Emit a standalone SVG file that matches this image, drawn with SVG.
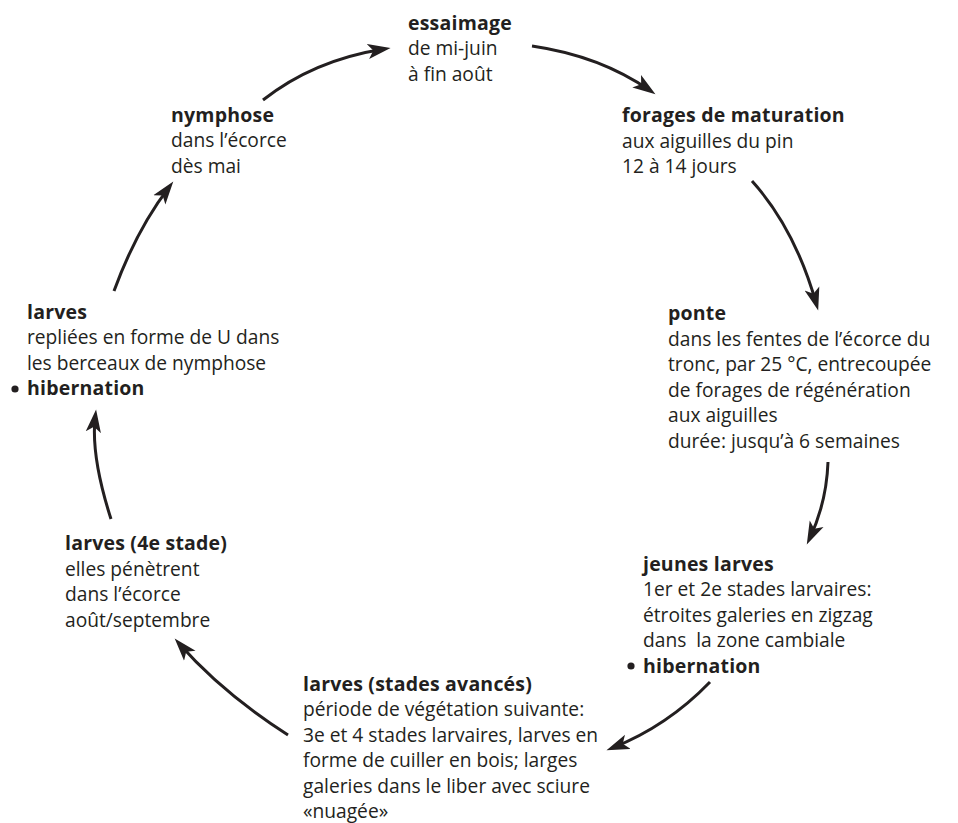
<svg xmlns="http://www.w3.org/2000/svg" width="958" height="823" viewBox="0 0 958 823">
<style>
text{font-family:"Open Sans","Noto Sans","Liberation Sans",sans-serif;font-size:19.2px;fill:#231f20}
.b{font-weight:bold;font-size:19.5px;letter-spacing:0.2px}
.c{fill:none;stroke:#231f20;stroke-width:3}
.dot{fill:#231f20}
</style>
<defs>
<marker id="ah" markerUnits="userSpaceOnUse" markerWidth="24" markerHeight="16" viewBox="0 0 22 14" refX="15" refY="7" orient="auto">
<path d="M0,0 L21,7 L0,14 L5,7 z" fill="#231f20"/>
</marker>
</defs>
<rect width="958" height="823" fill="#fff"/>
<g id="connectors">
<path class="c" marker-end="url(#ah)" d="M263,100 Q313.5,60 384.1,48.9"/>
<path class="c" marker-end="url(#ah)" d="M532,46 Q600.5,56 650.1,90.6"/>
<path class="c" marker-end="url(#ah)" d="M752,181 Q795,228.5 816.4,304.2"/>
<path class="c" marker-end="url(#ah)" d="M828,462 Q826.5,503 809.6,538.6"/>
<path class="c" marker-end="url(#ah)" d="M710,682 Q667.5,726 612.6,747.8"/>
<path class="c" marker-end="url(#ah)" d="M288,735 Q222.5,693 179,643.5"/>
<path class="c" marker-end="url(#ah)" d="M111,519 Q90.5,455.5 95.3,416"/>
<path class="c" marker-end="url(#ah)" d="M114,291 Q136.5,229.5 169.3,186.8"/>
</g>
<g id="essaimage">
<text class="b" x="408" y="29.5">essaimage</text>
<text x="408" y="55">de mi-juin</text>
<text x="408" y="80.5">à fin août</text>
</g>
<g id="forages">
<text class="b" x="622" y="122">forages de maturation</text>
<text x="622" y="147.5">aux aiguilles du pin</text>
<text x="622" y="173">12 à 14 jours</text>
</g>
<g id="ponte">
<text class="b" x="668" y="320">ponte</text>
<text x="668" y="345.5">dans les fentes de l’écorce du</text>
<text x="668" y="371">tronc, par 25 °C, entrecoupée</text>
<text x="668" y="396.5">de forages de régénération</text>
<text x="668" y="422">aux aiguilles</text>
<text x="668" y="447.5">durée: jusqu’à 6 semaines</text>
</g>
<g id="jeunes-larves">
<text class="b" x="643" y="570.5">jeunes larves</text>
<text x="643" y="596">1er et 2e stades larvaires:</text>
<text x="643" y="621.5">étroites galeries en zigzag</text>
<text x="643" y="647" style="white-space:pre" xml:space="preserve">dans  la zone cambiale</text>
<circle class="dot" cx="631" cy="666" r="3.6"/>
<text class="b" x="643" y="672.5">hibernation</text>
</g>
<g id="larves-avances">
<text class="b" x="303" y="690.5">larves (stades avancés)</text>
<text x="303" y="716">période de végétation suivante:</text>
<text x="303" y="741.5">3e et 4 stades larvaires, larves en</text>
<text x="303" y="767">forme de cuiller en bois; larges</text>
<text x="303" y="792.5">galeries dans le liber avec sciure</text>
<text x="303" y="818">«nuagée»</text>
</g>
<g id="larves-4e">
<text class="b" x="65" y="550">larves (4e stade)</text>
<text x="65" y="575.5">elles pénètrent</text>
<text x="65" y="601">dans l’écorce</text>
<text x="65" y="626.5">août/septembre</text>
</g>
<g id="larves">
<text class="b" x="27" y="318.5">larves</text>
<text x="27" y="344">repliées en forme de U dans</text>
<text x="27" y="369.5">les berceaux de nymphose</text>
<circle class="dot" cx="15" cy="389" r="3.6"/>
<text class="b" x="27" y="395">hibernation</text>
</g>
<g id="nymphose">
<text class="b" x="171" y="121.5">nymphose</text>
<text x="171" y="147">dans l’écorce</text>
<text x="171" y="172.5">dès mai</text>
</g>
</svg>
